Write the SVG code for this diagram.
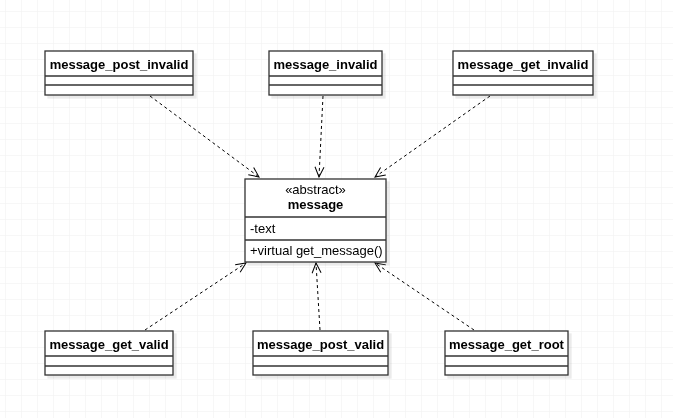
<svg xmlns="http://www.w3.org/2000/svg" width="673" height="418" viewBox="0 0 673 418">
<defs>
<pattern id="grid" x="5" y="11" width="16" height="16" patternUnits="userSpaceOnUse">
<path d="M0 0H16M0 0V16" fill="none" stroke="#efefef" stroke-width="1"/>
</pattern>
<marker id="open" viewBox="0 0 12 12" refX="11" refY="6" markerWidth="12" markerHeight="12" markerUnits="userSpaceOnUse" orient="auto">
<path d="M1 1.5L11 6L1 10.5" fill="none" stroke="#000" stroke-width="1"/>
</marker>
<filter id="sh" x="-10%" y="-10%" width="130%" height="140%">
<feOffset dx="3" dy="3" in="SourceAlpha"/>
<feComponentTransfer><feFuncA type="linear" slope="0.08"/></feComponentTransfer>
<feMerge><feMergeNode/><feMergeNode in="SourceGraphic"/></feMerge>
</filter>
</defs>
<style>
.box{fill:#fff;stroke:#333;stroke-width:1.3}
.sep{stroke:#333;stroke-width:1.3}
.t{font-family:"Liberation Sans",Arial,sans-serif;font-size:13px;fill:#000}
.b{font-weight:bold;text-anchor:middle}
.c{text-anchor:middle}
.dep{fill:none;stroke:#000;stroke-width:1;stroke-dasharray:3 3;marker-end:url(#open)}
</style>
<rect width="673" height="418" fill="#fff"/>
<rect width="673" height="418" fill="url(#grid)"/>

<g id="connectors">
<path class="dep" d="M150 96L259 177"/>
<path class="dep" d="M323 96L319 177"/>
<path class="dep" d="M490 96L375 177"/>
<path class="dep" d="M145 330L246 263"/>
<path class="dep" d="M320 330L316 263"/>
<path class="dep" d="M474 330L375 263"/>
</g>

<g id="message_post_invalid" filter="url(#sh)">
<rect class="box" x="45" y="51" width="148" height="44"/>
<line class="sep" x1="45" y1="76" x2="193" y2="76"/>
<line class="sep" x1="45" y1="85" x2="193" y2="85"/>
<text class="t b" x="119" y="68.5">message_post_invalid</text>
</g>

<g id="message_invalid" filter="url(#sh)">
<rect class="box" x="269" y="51" width="113" height="44"/>
<line class="sep" x1="269" y1="76" x2="382" y2="76"/>
<line class="sep" x1="269" y1="85" x2="382" y2="85"/>
<text class="t b" x="325.5" y="68.5">message_invalid</text>
</g>

<g id="message_get_invalid" filter="url(#sh)">
<rect class="box" x="453" y="51" width="140" height="44"/>
<line class="sep" x1="453" y1="76" x2="593" y2="76"/>
<line class="sep" x1="453" y1="85" x2="593" y2="85"/>
<text class="t b" x="523" y="68.5">message_get_invalid</text>
</g>

<g id="message" filter="url(#sh)">
<rect class="box" x="245" y="179" width="141" height="83"/>
<line class="sep" x1="245" y1="217" x2="386" y2="217"/>
<line class="sep" x1="245" y1="240" x2="386" y2="240"/>
<text class="t c" x="315.5" y="194">«abstract»</text>
<text class="t b" x="315.5" y="209">message</text>
<text class="t" x="250" y="232.5">-text</text>
<text class="t" x="250" y="255">+virtual get_message()</text>
</g>

<g id="message_get_valid" filter="url(#sh)">
<rect class="box" x="45" y="331" width="128" height="44"/>
<line class="sep" x1="45" y1="356" x2="173" y2="356"/>
<line class="sep" x1="45" y1="366" x2="173" y2="366"/>
<text class="t b" x="109" y="348.5">message_get_valid</text>
</g>

<g id="message_post_valid" filter="url(#sh)">
<rect class="box" x="253" y="331" width="135" height="44"/>
<line class="sep" x1="253" y1="356" x2="388" y2="356"/>
<line class="sep" x1="253" y1="366" x2="388" y2="366"/>
<text class="t b" x="320.5" y="348.5">message_post_valid</text>
</g>

<g id="message_get_root" filter="url(#sh)">
<rect class="box" x="445" y="331" width="123" height="44"/>
<line class="sep" x1="445" y1="356" x2="568" y2="356"/>
<line class="sep" x1="445" y1="366" x2="568" y2="366"/>
<text class="t b" x="506.5" y="348.5">message_get_root</text>
</g>
</svg>
